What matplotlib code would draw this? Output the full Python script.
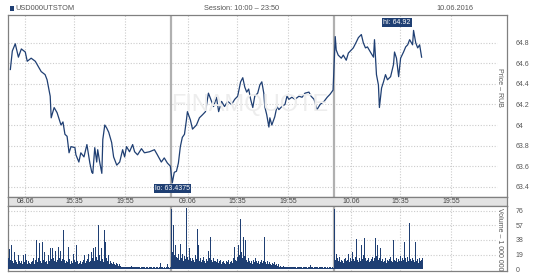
import matplotlib
matplotlib.use('Agg')
import matplotlib.pyplot as plt
from matplotlib.patches import Rectangle
import numpy as np

plt.rcParams['font.family'] = ['Liberation Sans', 'DejaVu Sans']

# ---- data ----
ticker = 'USD000UTSTOM'
session = 'Session: 10:00 \u2013 23:50'
today = '10.06.2016'
days = ['08.06', '09.06', '10.06']
session_len = 830          # minutes from 10:00 to 23:50
tick_minutes = [85, 335, 595]
tick_names = ['15:35', '19:55']

# price: minutes after 10:00, price in RUB
d1_min = [10, 20, 35, 51, 66, 86, 96, 116, 137, 152, 167, 187, 197, 213, 218, 233, 248, 268, 278, 288,
          299, 309, 319, 339, 344, 359, 369, 385, 400, 415, 425, 430, 440, 450, 455, 466, 476, 481, 491, 501,
          511, 526, 536, 552, 567, 582, 592, 602, 617, 633, 643, 658, 678, 693, 719, 744, 759, 779, 794, 810, 825]
d1_px = [64.54, 64.72, 64.79, 64.66, 64.74, 64.71, 64.62, 64.65, 64.62, 64.57, 64.52, 64.49, 64.44, 64.28, 64.07,
         64.17, 64.12, 64.00, 64.03, 63.91, 63.89, 63.73, 63.79, 63.78, 63.71, 63.64, 63.73, 63.69, 63.81, 63.63,
         63.54, 63.53, 63.78, 63.64, 63.76, 63.63, 63.53, 63.86, 64.00, 63.97, 63.93, 63.83, 63.69, 63.61, 63.64,
         63.76, 63.69, 63.79, 63.74, 63.81, 63.74, 63.71, 63.77, 63.73, 63.74, 63.76, 63.71, 63.64, 63.68, 63.63, 63.60]

d2_min = [5, 15, 26, 36, 46, 56, 67, 77, 82, 97, 108, 128, 143, 159, 174, 189, 205, 215, 230, 241,
          256, 271, 287, 307, 323, 338, 353, 364, 374, 384, 394, 404, 415, 425, 440, 451, 461, 471, 476, 486,
          497, 502, 512, 527, 538, 548, 563, 579, 589, 599, 614, 630, 650, 666, 681, 701, 712, 727, 742, 758,
          778, 794, 809, 824]
d2_px = [63.4375, 63.54, 63.55, 63.63, 63.79, 63.88, 63.91, 64.05, 64.13, 64.05, 63.96, 64.00, 64.07, 64.10, 64.13,
         64.31, 64.23, 64.18, 64.27, 64.13, 64.23, 64.18, 64.23, 64.20, 64.25, 64.28, 64.42, 64.46, 64.37, 64.32,
         64.35, 64.25, 64.17, 64.28, 64.31, 64.39, 64.42, 64.31, 64.18, 64.10, 63.98, 64.07, 64.00, 64.08, 64.18,
         64.15, 64.18, 64.20, 64.28, 64.25, 64.27, 64.25, 64.28, 64.27, 64.31, 64.32, 64.28, 64.25, 64.15, 64.20,
         64.23, 64.27, 64.30, 64.34]

d3_min = [5, 10, 20, 36, 46, 61, 72, 87, 97, 113, 123, 138, 148, 159, 169, 184, 200, 205, 215, 225,
          230, 241, 251, 261, 271, 287, 302, 307, 317, 328, 338, 353, 364, 374, 384, 399, 404, 415, 425, 435, 445]
d3_px = [64.86, 64.73, 64.68, 64.65, 64.68, 64.63, 64.70, 64.73, 64.75, 64.81, 64.85, 64.88, 64.80, 64.75, 64.76,
         64.71, 64.66, 64.83, 64.49, 64.39, 64.17, 64.36, 64.42, 64.49, 64.44, 64.47, 64.59, 64.71, 64.65, 64.47,
         64.65, 64.71, 64.76, 64.78, 64.83, 64.78, 64.92, 64.80, 64.75, 64.78, 64.66]

# volume per 5-minute bar, millions
d1_vol = [14, 26, 12, 32, 10, 8, 22, 12, 9, 7, 19, 11, 8, 10, 6, 18, 9, 20, 12, 7,
          10, 8, 6, 9, 11, 15, 7, 12, 38, 9, 14, 34, 10, 8, 36, 12, 22, 9, 11, 7,
          18, 10, 27, 13, 27, 15, 11, 24, 16, 9, 12, 29, 14, 24, 10, 13, 51, 12, 8, 11,
          9, 29, 13, 7, 10, 8, 20, 12, 9, 31, 10, 6, 8, 11, 7, 9, 12, 19, 8, 10,
          13, 20, 9, 11, 22, 14, 27, 10, 29, 16, 12, 58, 18, 11, 27, 13, 9, 51, 35, 15,
          10, 18, 9, 7, 10, 8, 6, 9, 7, 5, 8, 6, 4, 6, 4, 3, 2, 3, 2, 2,
          3, 2, 2, 3, 2, 4, 3, 2, 2, 3, 2, 3, 2, 2, 1, 2, 3, 2, 2, 1,
          2, 2, 1, 2, 3, 2, 1, 2, 2, 1, 2, 2, 1, 3, 8, 2, 1, 2, 1, 2,
          1, 2, 6, 2, 1, 2]
d2_vol = [79, 22, 57, 18, 31, 16, 14, 20, 12, 33, 15, 20, 11, 17, 13, 80, 16, 12, 27, 14,
          10, 15, 12, 9, 18, 13, 53, 31, 11, 14, 9, 12, 16, 10, 8, 13, 11, 24, 15, 42,
          12, 9, 14, 10, 7, 11, 9, 13, 8, 10, 12, 7, 9, 11, 8, 6, 10, 9, 12, 7,
          9, 11, 8, 14, 29, 12, 10, 16, 31, 18, 65, 22, 14, 42, 17, 38, 12, 9, 15, 10,
          8, 11, 7, 12, 9, 14, 10, 8, 11, 7, 9, 12, 8, 10, 42, 9, 7, 11, 8, 6,
          9, 7, 5, 8, 6, 9, 5, 7, 4, 6, 3, 4, 3, 2, 4, 3, 2, 3, 2, 2,
          3, 2, 2, 3, 2, 2, 3, 1, 2, 2, 3, 2, 2, 1, 2, 2, 3, 2, 1, 2,
          2, 5, 2, 2, 1, 2, 2, 3, 2, 1, 2, 2, 1, 2, 2, 1, 2, 2, 1, 2,
          1, 2, 2, 1, 2, 1]
d3_vol = [79, 12, 20, 14, 10, 16, 9, 12, 11, 8, 13, 15, 10, 12, 20, 9, 14, 11, 22, 13,
          10, 16, 39, 12, 9, 14, 11, 32, 13, 18, 41, 15, 10, 12, 14, 9, 11, 13, 16, 10,
          12, 14, 41, 17, 31, 12, 15, 27, 10, 13, 9, 11, 14, 8, 12, 10, 13, 16, 11, 9,
          38, 12, 10, 14, 9, 13, 11, 17, 10, 15, 12, 35, 14, 9, 16, 11, 60, 13, 10, 14,
          12, 9, 36, 11, 13, 8, 15, 10, 12, 14]

price_ticks = [63.4, 63.6, 63.8, 64.0, 64.2, 64.4, 64.6, 64.8]
vol_ticks = [0, 19, 38, 57, 76]

# ---- layout ----
W, H = 548, 275
navy = '#1f3f73'
grid_c = '#cccccc'
sep_c = '#b0b0b0'
txt_c = '#555555'

fig = plt.figure(figsize=(W / 100, H / 100), dpi=100)


def box(l, t, r, b):
    return [l / W, 1 - b / H, (r - l) / W, (b - t) / H]


ax = fig.add_axes(box(8, 15, 507, 197))
band = fig.add_axes(box(8, 197, 507, 206), sharex=ax)
axv = fig.add_axes(box(8, 206, 507, 271), sharex=ax)

x_end = 3 * session_len
xs, ys = [], []
for d, (mins, pxs) in enumerate([(d1_min, d1_px), (d2_min, d2_px), (d3_min, d3_px)]):
    xs += [d * session_len + m for m in mins]
    ys += pxs
xs = np.array(xs)
ys = np.array(ys)

ax.plot(xs, ys, color=navy, lw=0.9, zorder=3)

for d, vol in enumerate([d1_vol, d2_vol, d3_vol]):
    bx = d * session_len + 5 * np.arange(len(vol)) + 2.5
    axv.bar(bx, vol, width=5, color=navy, linewidth=0, zorder=3, antialiased=False)

ax.set_xlim(-2, 2540)
ax.set_ylim(63.30, 65.07)
axv.set_ylim(-2.6, 82.5)

# grid
tick_x = []
for d in range(3):
    tick_x += [d * session_len + m for m in tick_minutes]
for a in (ax, axv):
    for tx in tick_x:
        a.axvline(tx, color=grid_c, lw=0.8, ls=(0, (1, 1.5)), zorder=1)
    for d in (1, 2):
        a.axvline(d * session_len, color=sep_c, lw=1.6, zorder=2)
ax.hlines(price_ticks, 0, x_end, color=grid_c, lw=0.8, linestyles=[(0, (1, 1.5))], zorder=1)
axv.hlines(vol_ticks[1:], 0, x_end, color=grid_c, lw=0.8, linestyles=[(0, (1, 1.5))], zorder=1)

for a in (ax, axv, band):
    for s in a.spines.values():
        s.set_color('#808080')
        s.set_linewidth(0.9)
    a.tick_params(axis='x', length=0, labelbottom=False)

ax.yaxis.tick_right()
ax.set_yticks(price_ticks)
ax.set_yticklabels(['%g' % v for v in price_ticks])
axv.yaxis.tick_right()
axv.set_yticks(vol_ticks)
for a in (ax, axv):
    a.tick_params(axis='y', length=0, pad=6, labelsize=5, labelcolor=txt_c)

band.set_facecolor('#e3e3e3')
band.set_yticks([])
band.set_ylim(0, 1)
labels = []
for d in range(3):
    labels += [days[d]] + tick_names
for tx, lab in zip(tick_x, labels):
    band.text(tx, 0.45, lab, ha='center', va='center', fontsize=5, color='#444444')

# hi / lo markers
i_lo = int(np.argmin(ys))
i_hi = int(np.argmax(ys))
bb = dict(boxstyle='square,pad=0.15', fc=navy, ec='none')
ax.annotate('lo: %g' % ys[i_lo], xy=(xs[i_lo], ys[i_lo]), xytext=(0, -1.5),
            textcoords='offset points', ha='center', va='top', fontsize=5, color='white', bbox=bb, zorder=5)
ax.annotate('hi: %g' % ys[i_hi], xy=(xs[i_hi], ys[i_hi]), xytext=(-2, 3.5),
            textcoords='offset points', ha='right', va='bottom', fontsize=5, color='white', bbox=bb, zorder=5)

# faint watermark
fig.text(250 / W, 1 - 105 / H, 'FINAMQUOTE', ha='center', va='center', fontsize=17,
         color='#ededed', zorder=0)

# axis names inside the frames
fig.text(500 / W, 1 - 87 / H, 'Price \u2013 RUB', rotation=-90, ha='center', va='center', fontsize=5, color=txt_c)
fig.text(500 / W, 1 - 239 / H, 'Volume \u2013 1 000 000', rotation=-90, ha='center', va='center',
         fontsize=5, color=txt_c)

# header
fig.patches.append(Rectangle((10 / W, 1 - 11 / H), 4 / W, 5 / H, transform=fig.transFigure,
                             facecolor=navy, edgecolor='none'))
fig.text(15.5 / W, 1 - 8 / H, ticker, ha='left', va='center', fontsize=5.3, color=txt_c)
fig.text(242 / W, 1 - 8 / H, session, ha='center', va='center', fontsize=5.3, color=txt_c)
fig.text(473 / W, 1 - 8 / H, today, ha='right', va='center', fontsize=5.3, color=txt_c)

fig.savefig('out.png', dpi=100)
